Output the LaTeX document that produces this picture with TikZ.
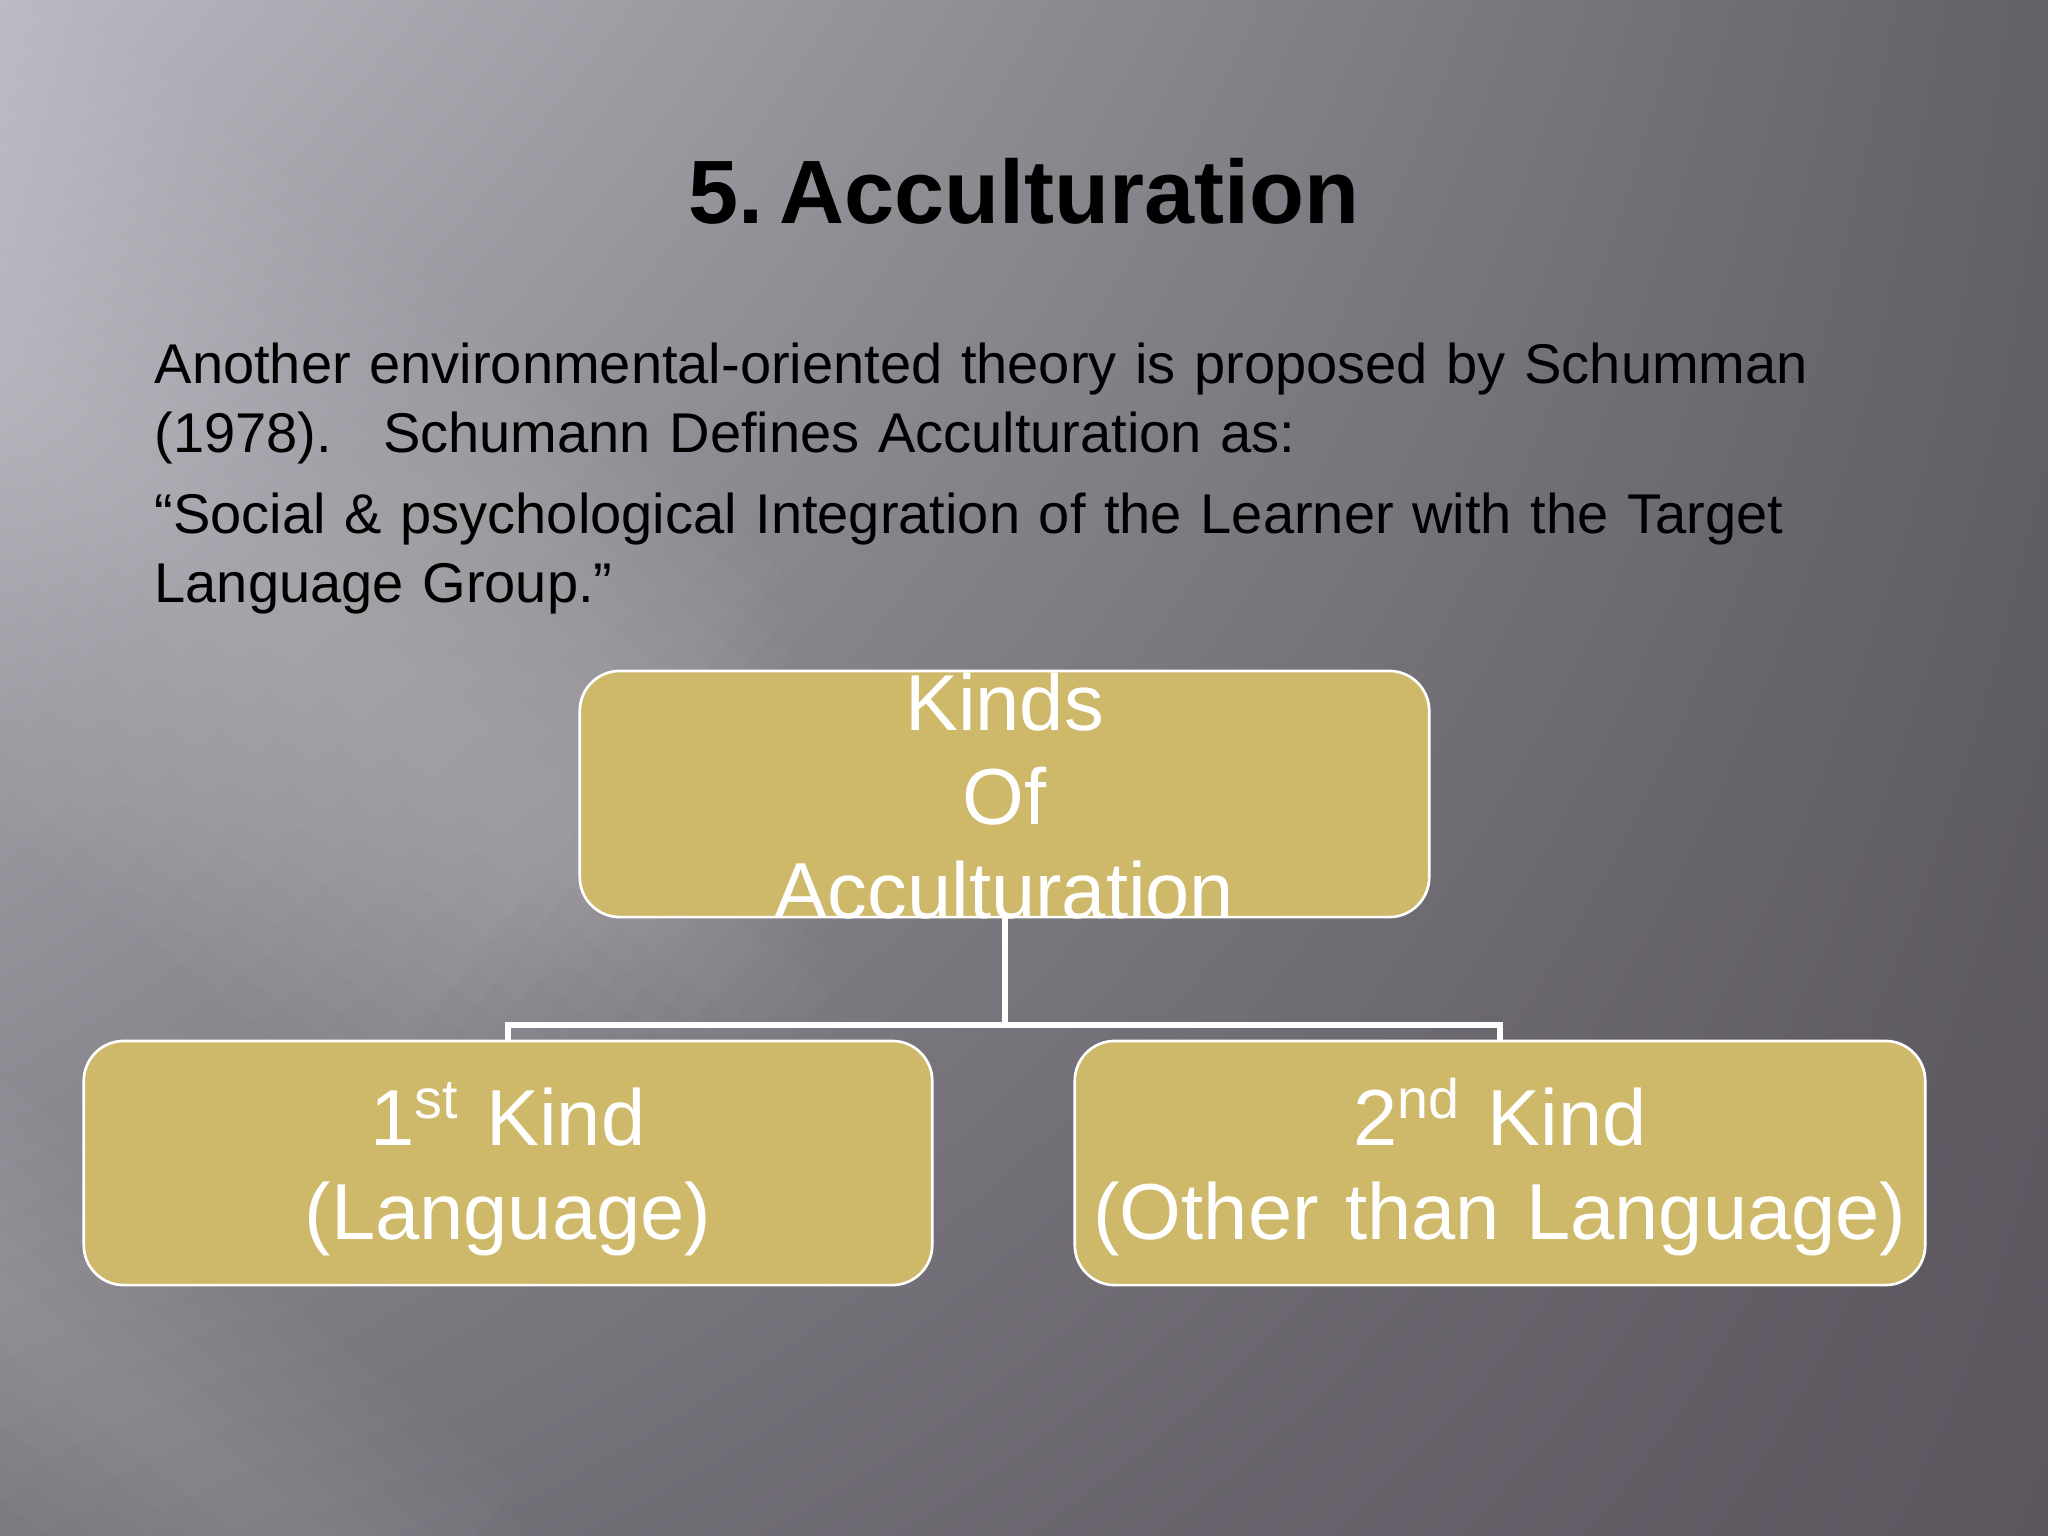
\documentclass[tikz,border=0pt]{standalone}
\usepackage{fontspec}
\setmainfont{Liberation Sans}
\usetikzlibrary{shadings}
\definecolor{bgUL}{RGB}{186,184,192}
\definecolor{bgUR}{RGB}{99,97,103}
\definecolor{bgLL}{RGB}{122,119,127}
\definecolor{bgLR}{RGB}{91,85,94}
\definecolor{gold}{RGB}{206,185,106}
\newcommand{\titlefont}{\fontsize{25.6}{30}\selectfont\bfseries}
\newcommand{\bodyfont}{\fontsize{15.93}{19.63}\selectfont}
\newcommand{\kindfont}{\fontsize{22.6}{26.75}\selectfont}
\begin{document}
\begin{tikzpicture}[x=0.01cm,y=-0.01cm,
  kindbox/.style={draw=white, line width=0.75pt, fill=gold, rounded corners=0.4cm, inner sep=0pt},
  kindtext/.style={text=white, font=\kindfont, align=center, text width=9cm, inner sep=0pt, anchor=base},
  bodytext/.style={text=black, font=\bodyfont, align=left, text width=18cm, inner sep=0pt, anchor=base west},
  conn/.style={draw=white, line width=1.7pt},
  titletext/.style={font=\titlefont, inner sep=0pt, anchor=base}]
\useasboundingbox (0,0) rectangle (2048,1536);
% background
\shade[upper left=bgUL, upper right=bgUR, lower left=bgLL, lower right=bgLR] (0,0) rectangle (2048,1536);
\begin{scope}
  \clip (0,0) rectangle (2048,1536);
  \begin{scope}[shift={(-300,150)}, rotate=-38.3]
    \foreach \w in {40,70,...,340} {
      \fill[white, opacity=0.02] (-200,-\w) rectangle (1450-\w,\w);
    }
  \end{scope}
  \begin{scope}[shift={(-200,1150)}, rotate=-38.3]
    \foreach \w in {30,60,...,180} {
      \fill[white, opacity=0.018] (-100,-\w) rectangle (950-\w,\w);
    }
  \end{scope}
\end{scope}
% title
\node[titletext, text=black] (title) at (1024,223) {5.\hspace{4.5pt}Acculturation};
% body text
\node[bodytext] (para1) at (154,383) {Another environmental-oriented theory is proposed by Schumman\\(1978).\hspace{14.5pt}Schumann Defines Acculturation as:};
\node[bodytext] (para2) at (154,533) {“Social \& psychological Integration of the Learner with the Target\\Language Group.”};
% boxes
\node[kindbox, minimum width=8.49cm, minimum height=2.46cm] (top) at (1004.5,794) {};
\node[kindbox, minimum width=8.48cm, minimum height=2.44cm] (left) at (508,1163) {};
\node[kindbox, minimum width=8.50cm, minimum height=2.44cm] (right) at (1500,1163) {};
% connectors
\coordinate (bus) at (1004.5,1025);
\draw[conn] (top.south) -- (top.south |- bus) -| (left.north);
\draw[conn] (top.south |- bus) -| (right.north);
% box texts
\node[kindtext] (toptext) at (1004.5,730) {Kinds\\Of\\Acculturation};
\node[kindtext] (lefttext) at (508,1145) {1\textsuperscript{st} Kind\\(Language)};
\node[kindtext] (righttext) at (1500,1145) {2\textsuperscript{nd} Kind\\(Other than Language)};
\end{tikzpicture}
\end{document}
